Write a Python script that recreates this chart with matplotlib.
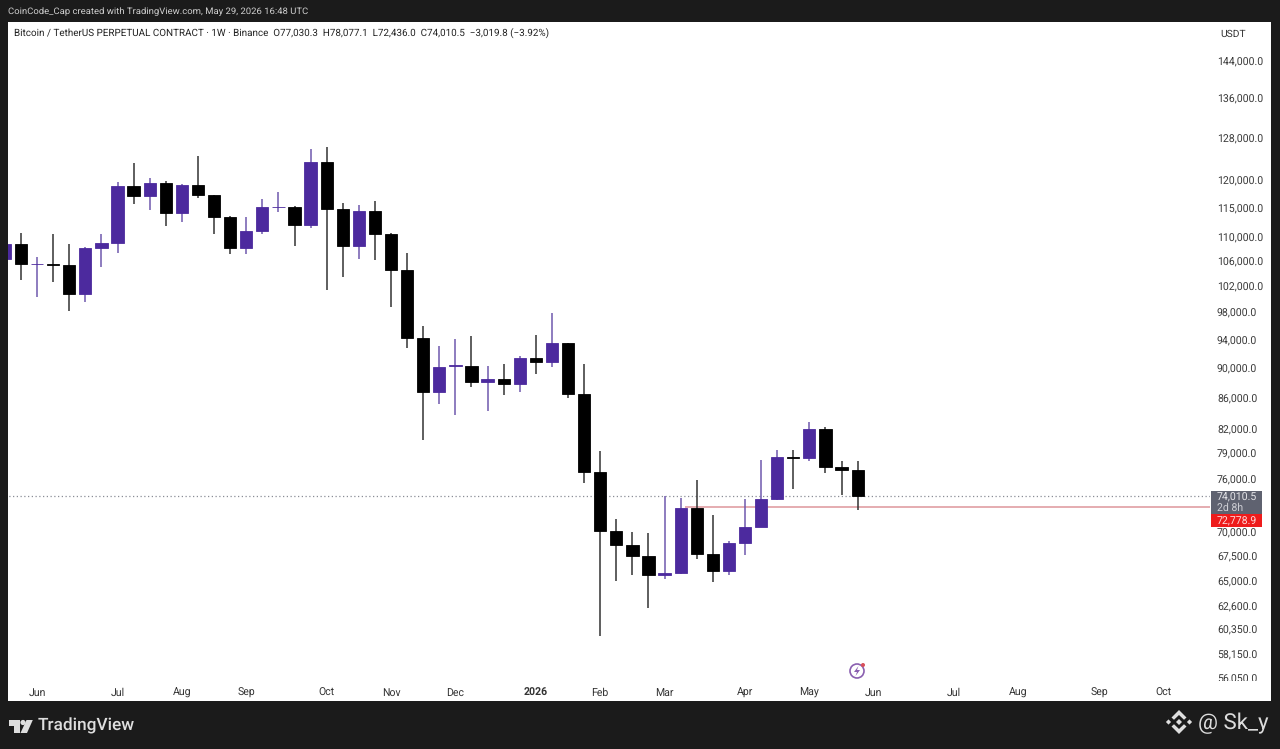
import matplotlib
matplotlib.use('Agg')
import numpy as np
import matplotlib.pyplot as plt
from matplotlib.patches import Rectangle, Polygon, Circle

plt.rcParams['font.family'] = ['Roboto', 'DejaVu Sans']
plt.rcParams['text.hinting'] = 'no_hinting'

# weekly candles BTCUSDT
opens = [106350, 108920, 105500, 105650, 105430, 100870, 108260, 109090, 119020, 117160,
         119480, 114180, 119200, 117340, 113440, 108210, 111070, 115160, 115270, 112100,
         123410, 114810, 108490, 114520, 110500, 104640, 94220, 86810, 90300, 90350,
         88090, 88560, 87870, 91440, 90890, 93560, 86570, 76860, 70230, 68745,
         67560, 65660, 65860, 72750, 67770, 66000, 68930, 70620, 73680, 78600,
         78490, 82080, 77390, 77030.3]
closes = [108900, 105550, 105650, 105430, 100870, 108260, 109090, 119020, 117160, 119410,
          114180, 119200, 117340, 113440, 108210, 111070, 115160, 115270, 112100, 123410,
          114810, 108490, 114520, 110500, 104640, 94220, 86810, 90250, 90400, 88090,
          88560, 87870, 91440, 90890, 93560, 86570, 76860, 70230, 68745, 67560,
          65660, 65860, 72750, 67770, 66000, 68930, 70620, 73680, 78570, 78530,
          82090, 77390, 77030, 74010.5]
highs = [109900, 110650, 106780, 110580, 108820, 108430, 110500, 119640, 123280, 120330,
         119780, 119300, 124540, 117400, 113540, 113370, 116570, 117880, 115300, 125820,
         126330, 115870, 115520, 116330, 110650, 107440, 96000, 93070, 94150, 94550,
         90300, 90610, 91670, 94680, 97950, 93600, 90610, 79280, 71440, 70090,
         69990, 74010, 73860, 75920, 71960, 69140, 73720, 78290, 79400, 79480,
         82870, 82300, 78130, 78077.1]
lows = [105000, 103080, 100360, 102680, 98180, 99600, 105010, 107440, 115740, 114700,
        111860, 112640, 116750, 110550, 107220, 107220, 110550, 114350, 108590, 111570,
        101500, 103540, 106350, 106240, 98930, 92920, 80615, 85230, 83780, 87520,
        84370, 86350, 86850, 89250, 90150, 85960, 75550, 59750, 65060, 65580,
        62360, 65220, 65760, 67260, 64900, 65630, 67670, 70600, 73650, 74890,
        78110, 76730, 74180, 72436.0]

price_ticks = [144000, 136000, 128000, 120000, 115000, 110000, 106000, 102000, 98000, 94000,
               90000, 86000, 82000, 79000, 76000, 70000, 67500, 65000, 62600, 60350, 58150, 56050]
time_ticks = [2, 7, 11, 15, 20, 24, 28, 33, 37, 41, 46, 50, 54, 59, 63, 68, 72]
time_labels = ['Jun', 'Jul', 'Aug', 'Sep', 'Oct', 'Nov', 'Dec', '2026', 'Feb', 'Mar',
               'Apr', 'May', 'Jun', 'Jul', 'Aug', 'Sep', 'Oct']
last_close = 74010.5
level = 72778.9
level_start = 42.3

DARK = '#1b1b1b'
PURPLE = '#4c2a9e'
BLACK = '#000000'
W, H = 1280, 749


def box(x0, y0, x1, y1):
    # pixel box to figure fractions
    return [x0 / W, 1 - y1 / H, (x1 - x0) / W, (y1 - y0) / H]


def pixel_axes(z):
    a = fig.add_axes([0, 0, 1, 1], zorder=z)
    a.set_xlim(0, W)
    a.set_ylim(H, 0)
    a.axis('off')
    a.patch.set_alpha(0)
    return a


fig = plt.figure(figsize=(12.8, 7.49), dpi=100, facecolor=DARK)

bg = pixel_axes(0)
bg.add_patch(Rectangle((8, 22), 1263, 679, fc='white', ec='none'))

ax = fig.add_axes(box(8, 22, 1210, 682), zorder=1)
ax.patch.set_alpha(0)
for s in ax.spines.values():
    s.set_visible(False)
ax.set_yscale('log')
ax.set_xlim(0.193, 74.9)
ax.set_ylim(55720, 152840)

# last price and alert level sit behind the candles
ax.hlines(last_close, 0, 75, color='#8a8d96', lw=0.9, linestyles=(0, (1, 2)), zorder=1)
ax.hlines(level, level_start, 75, color='#e3a6aa', lw=1.3, zorder=1)

idx = np.arange(len(opens))
colors = [PURPLE if c >= o else BLACK for o, c in zip(opens, closes)]
ax.vlines(idx, lows, highs, colors=['#6f58ae' if c == PURPLE else '#333333' for c in colors],
          lw=1.1, zorder=2)
bottoms = np.minimum(opens, closes)
heights = np.abs(np.array(closes) - np.array(opens))
ax.bar(idx, heights, bottom=bottoms, width=0.76, color=colors, edgecolor=colors, lw=0.6, zorder=3)

ax.yaxis.tick_right()
ax.set_yticks(price_ticks)
ax.set_yticklabels(['{:,.1f}'.format(p) for p in price_ticks])
ax.yaxis.set_minor_locator(matplotlib.ticker.NullLocator())
ax.tick_params(axis='y', length=0, pad=5, labelsize=7.6, labelcolor='#3a3a3a')
for lab in ax.get_yticklabels():
    lab.set_va('center_baseline')
ax.set_xticks(time_ticks)
ax.set_xticklabels(time_labels)
ax.tick_params(axis='x', length=0, pad=4, labelsize=7.6, labelcolor='#333333')
ax.get_xticklabels()[7].set_fontweight('bold')

top = pixel_axes(3)
# price scale stops above the time strip
top.add_patch(Rectangle((1210, 681), 61, 20, fc='white', ec='none'))

top.text(8, 12, 'CoinCode_Cap created with TradingView.com, May 29, 2026 16:48 UTC',
         color='#d0d0d0', fontsize=6.8, va='center')
top.text(14, 33, 'Bitcoin / TetherUS PERPETUAL CONTRACT · 1W · Binance  O77,030.3  H78,077.1  L72,436.0  C74,010.5  −3,019.8 (−3.92%)',
         color='#222222', fontsize=7.1, va='center')
top.text(1233, 34, 'USDT', color='#333333', fontsize=7.4, va='center', ha='center')

# tags on the price scale
top.add_patch(Rectangle((1211, 491), 51, 23, fc='#5f6270', ec='none'))
top.add_patch(Rectangle((1211, 514), 51, 13, fc='#ee1c1c', ec='none'))
top.text(1217, 497, '{:,.1f}'.format(last_close), color='#e4e4e8', fontsize=7.6, va='center')
top.text(1217, 508, '2d 8h', color='#d0d0d6', fontsize=7.6, va='center')
top.text(1217, 521, '{:,.1f}'.format(level), color='#ffd8d8', fontsize=7.6, va='center')

# lightning icon
top.add_patch(Circle((857, 671), 7, fc='none', ec='#8a5fb0', lw=1.2))
top.add_patch(Polygon([(858.5, 666), (854, 672), (857, 672), (855.5, 676), (860, 670), (857, 670)],
                      fc='#8a5fb0', ec='none'))
top.add_patch(Circle((863, 665), 2, fc='#d8505a', ec='none'))

# TradingView mark
LOGO = '#dedede'
top.add_patch(Polygon([(9, 720), (19.5, 720), (19.5, 733), (14, 733), (14, 725.5), (9, 725.5)], fc=LOGO, ec='none'))
top.add_patch(Circle((23, 722.5), 2.6, fc=LOGO, ec='none'))
top.add_patch(Polygon([(26.5, 720), (32.8, 720), (27, 733), (20.5, 733)], fc=LOGO, ec='none'))
top.text(38, 726, 'TradingView', color=LOGO, fontsize=12.4, fontweight='medium', va='center')

# Binance style diamond, bottom right
cx, cy = 1179, 722
def diamond(x, y, r):
    return [(x, y - r), (x + r, y), (x, y + r), (x - r, y)]
for dx in (-10.5, 10.5):
    top.add_patch(Polygon(diamond(cx + dx, cy, 2.6), fc=LOGO, ec='none'))
top.add_patch(Polygon(diamond(cx, cy, 3), fc=LOGO, ec='none'))
for sgn in (-1, 1):
    top.add_patch(Polygon([(cx - 7.5, cy + sgn * 4.5), (cx, cy + sgn * 12), (cx + 7.5, cy + sgn * 4.5),
                           (cx + 5, cy + sgn * 2.2), (cx, cy + sgn * 7), (cx - 5, cy + sgn * 2.2)],
                          fc=LOGO, ec='none'))
top.text(1198, 723, '@ Sk_y', color='#dcdcdc', fontsize=16, va='center')

fig.savefig('out.png', dpi=100, facecolor=fig.get_facecolor())
